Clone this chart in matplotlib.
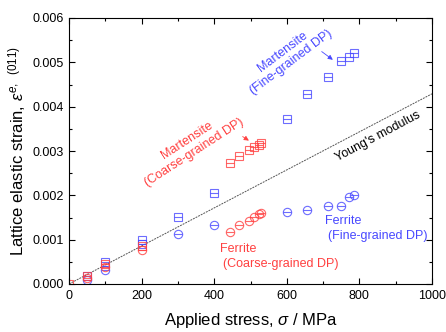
import matplotlib
matplotlib.use("Agg")
import matplotlib.pyplot as plt
from matplotlib.ticker import MultipleLocator, FormatStrFormatter

plt.rcParams['font.family'] = ['Liberation Sans', 'DejaVu Sans']
plt.rcParams['mathtext.fontset'] = 'custom'
plt.rcParams['mathtext.rm'] = 'Liberation Sans'
plt.rcParams['mathtext.it'] = 'Liberation Sans:italic'

BLUE = '#4848ff'
RED = '#ff4040'

# martensite, fine-grained DP (blue squares)
mf_x = [50, 100, 200, 200, 300, 400, 600, 656, 713, 749, 772, 785]
mf_y = [0.00018, 0.00050, 0.00100, 0.00091, 0.00152, 0.00206, 0.00373, 0.00428, 0.00467, 0.00502, 0.00511, 0.00521]
# ferrite, fine-grained DP (blue circles)
ff_x = [50, 100, 300, 400, 600, 656, 713, 749, 772, 785]
ff_y = [0.00008, 0.00032, 0.00112, 0.00132, 0.00162, 0.00167, 0.00177, 0.00177, 0.00196, 0.00201]
# martensite, coarse-grained DP (red squares)
mc_x = [0, 50, 100, 200, 444, 468, 496, 511, 523, 528]
mc_y = [0.0, 0.00018, 0.00045, 0.00085, 0.00274, 0.00289, 0.00303, 0.00308, 0.00313, 0.00317]
# ferrite, coarse-grained DP (red circles)
fc_x = [50, 100, 200, 444, 468, 496, 511, 523, 528]
fc_y = [0.00014, 0.00038, 0.00077, 0.00117, 0.00132, 0.00143, 0.00152, 0.00158, 0.00161]

# Young's modulus line
ym_x = [0, 1000]
ym_y = [0.0, 0.00429]

fig = plt.figure(figsize=(4.46, 3.32), dpi=100)
ax = fig.add_axes([69/446, 1 - 284/332, (432-69)/446, (284-18)/332])

ax.plot(ym_x, ym_y, color='#555555', lw=0.7, ls=(0, (2, 1)))

def marked(x, y, m, c):
    ax.plot(x, y, ls='none', marker=m, ms=6, mfc='none', mec=c, mew=0.8, alpha=0.8)
    ax.plot(x, y, ls='none', marker='_', ms=6, mec=c, mew=0.8, alpha=0.8)

marked(mf_x, mf_y, 's', BLUE)
marked(ff_x, ff_y, 'o', BLUE)
marked(mc_x, mc_y, 's', RED)
marked(fc_x, fc_y, 'o', RED)

fs = 9
ax.text(600, 0.00512, 'Martensite\n(Fine-grained DP)', color=BLUE, fontsize=fs,
        rotation=37, ha='center', va='center', multialignment='center')
ax.annotate('', xy=(733, 0.00502), xytext=(690, 0.00528),
            arrowprops=dict(arrowstyle='-|>', color=BLUE, lw=0.6, mutation_scale=7))
ax.text(335, 0.00310, 'Martensite\n(Coarse-grained DP)', color=RED, fontsize=fs,
        rotation=33, ha='center', va='center', multialignment='center')
ax.annotate('', xy=(502, 0.00320), xytext=(472, 0.00336),
            arrowprops=dict(arrowstyle='-|>', color=RED, lw=0.6, mutation_scale=7))
ax.text(851, 0.00333, "Young's modulus", color='black', fontsize=fs,
        rotation=28, ha='center', va='center')
ax.text(706, 0.00142, 'Ferrite', color=BLUE, fontsize=fs, va='center')
ax.text(714, 0.00109, '(Fine-grained DP)', color=BLUE, fontsize=fs, va='center')
ax.text(417, 0.00080, 'Ferrite', color=RED, fontsize=fs, va='center')
ax.text(424, 0.00046, '(Coarse-grained DP)', color=RED, fontsize=fs, va='center')

ax.set_xlim(0, 1000)
ax.set_ylim(0, 0.006)
ax.xaxis.set_major_locator(MultipleLocator(200))
ax.xaxis.set_minor_locator(MultipleLocator(100))
ax.yaxis.set_major_locator(MultipleLocator(0.001))
ax.yaxis.set_minor_locator(MultipleLocator(0.0005))
ax.yaxis.set_major_formatter(FormatStrFormatter('%.3f'))
ax.tick_params(which='both', direction='in', top=True, right=True, labelsize=9, width=0.8)
ax.tick_params(which='major', length=4, pad=4)
ax.tick_params(which='minor', length=2.5)
for s in ax.spines.values():
    s.set_linewidth(0.8)

ax.set_xlabel(r'Applied stress, $\sigma$ / MPa', fontsize=12, labelpad=7)
ax.set_ylabel(r'Lattice elastic strain, $\varepsilon^{e,\ \ \mathit{(011)}}$', fontsize=12, labelpad=3)

fig.savefig('out.png', dpi=100)
